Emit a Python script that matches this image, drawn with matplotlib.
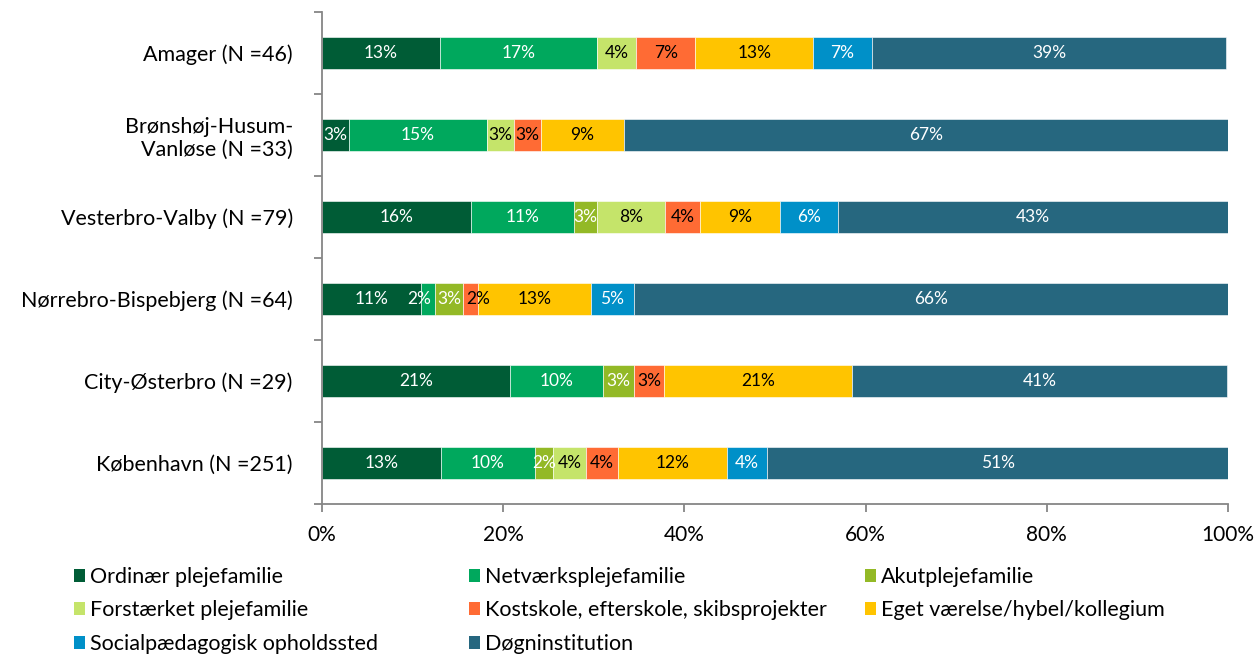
import matplotlib.pyplot as plt
from matplotlib.patches import Patch
import numpy as np

plt.rcParams['font.family'] = ['Lato', 'DejaVu Sans']

# Categories (top to bottom)
areas = ['Amager (N =46)', 'Brønshøj-Husum-\nVanløse (N =33)', 'Vesterbro-Valby (N =79)',
         'Nørrebro-Bispebjerg (N =64)', 'City-Østerbro (N =29)', 'København (N =251)']

series = ['Ordinær plejefamilie', 'Netværksplejefamilie', 'Akutplejefamilie',
          'Forstærket plejefamilie', 'Kostskole, efterskole, skibsprojekter',
          'Eget værelse/hybel/kollegium', 'Socialpædagogisk opholdssted', 'Døgninstitution']

# Share in percent per area, one list per series
ordinaer = [13.0, 3.0, 16.4, 10.9, 20.7, 13.1]
netvaerk = [17.4, 15.2, 11.4, 1.6, 10.3, 10.4]
akut = [0.0, 0.0, 2.5, 3.1, 3.4, 2.0]
forstaerket = [4.3, 3.0, 7.6, 0.0, 0.0, 3.6]
kostskole = [6.5, 3.0, 3.8, 1.6, 3.4, 3.6]
eget = [13.0, 9.1, 8.9, 12.5, 20.7, 12.0]
socialpaed = [6.5, 0.0, 6.3, 4.7, 0.0, 4.4]
doegn = [39.1, 66.7, 43.1, 65.6, 41.4, 51.0]

values = [ordinaer, netvaerk, akut, forstaerket, kostskole, eget, socialpaed, doegn]
colors = ['#005C36', '#00A85D', '#93B926', '#C5E46A', '#FF6B34', '#FFC400', '#0090C8', '#26677F']
text_colors = ['white', 'white', 'white', 'black', 'black', 'black', 'white', 'white']

# small sideways nudges (in % units) for crowded labels: (series, area) -> shift
nudge = {(1, 3): -1.0, (4, 3): 0.8}

fig = plt.figure(figsize=(12.58, 6.57), dpi=100)
ax = fig.add_axes([322 / 1258, 1 - 504 / 657, 906 / 1258, 492 / 657])

y = np.arange(len(areas))
left = np.zeros(len(areas))
for si, (vals, col, tcol, name) in enumerate(zip(values, colors, text_colors, series)):
    vals = np.array(vals)
    bars = ax.barh(y, vals, left=left, height=0.4, color=col, label=name,
                   edgecolor='white', linewidth=0.4)
    for ai, (b, v) in enumerate(zip(bars, vals)):
        if v > 0:
            ax.text(b.get_x() + b.get_width() / 2 + nudge.get((si, ai), 0),
                    b.get_y() + b.get_height() / 2,
                    f'{int(np.floor(v + 0.5))}%', ha='center', va='center',
                    color=tcol, fontsize=12.5)
    left += vals

ax.set_xlim(0, 100)
ax.set_ylim(len(areas) - 0.5, -0.5)
ax.set_yticks(y)
ax.set_yticklabels(areas, fontsize=15.5, linespacing=1.2)
ax.set_yticks(np.arange(-0.5, len(areas)), minor=True)
ax.tick_params(axis='y', which='major', length=0, pad=21)
ax.tick_params(axis='y', which='minor', length=6, color='#868686', width=1.3, direction='out')
ax.set_xticks(np.arange(0, 101, 20))
ax.set_xticklabels([f'{t}%' for t in range(0, 101, 20)], fontsize=15)
ax.tick_params(axis='x', length=6, color='#868686', width=1.3, pad=9)

for s in ['top', 'right']:
    ax.spines[s].set_visible(False)
for s in ['left', 'bottom']:
    ax.spines[s].set_color('#868686')
    ax.spines[s].set_linewidth(1.3)

# legend in three fixed columns, filled row by row
col_x = [74 / 1258, 469 / 1258, 865 / 1258]
for c in range(3):
    idx = list(range(c, len(series), 3))
    handles = [Patch(facecolor=colors[i], label=series[i]) for i in idx]
    fig.legend(handles=handles, loc='upper left', bbox_to_anchor=(col_x[c], 1 - 567 / 657),
               frameon=False, fontsize=15.5, handlelength=0.5, handleheight=0.55,
               handletextpad=0.25, labelspacing=0.62, borderpad=0, borderaxespad=0)

plt.savefig('out.png', dpi=100)
